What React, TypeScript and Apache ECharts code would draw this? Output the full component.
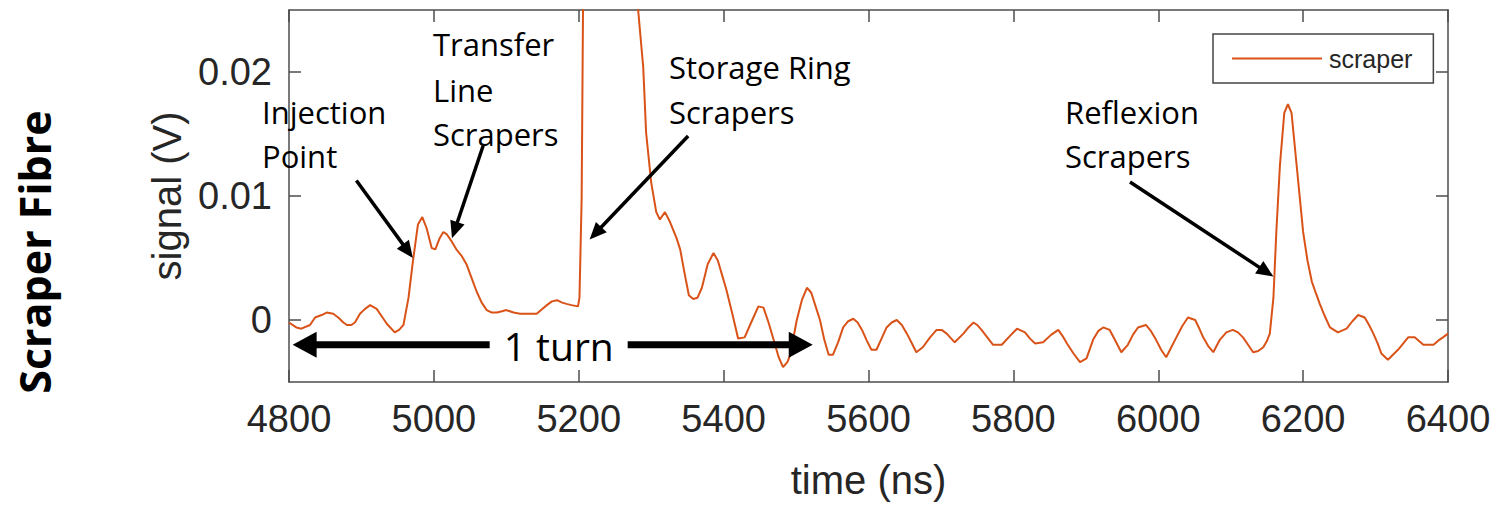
import React, { useEffect, useRef } from "react";
import * as echarts from "echarts";

// ---- data ----
const timeNs = [
  4800, 4810, 4817, 4829, 4836, 4845, 4852, 4861, 4868, 4875, 4880, 4886, 4891, 4898, 4905, 4912, 4921, 4928, 4935, 4946,
  4952, 4958, 4965, 4971, 4978, 4984, 4990, 4997, 5002, 5008, 5013, 5018, 5025, 5031, 5038, 5045, 5052, 5059, 5066, 5073,
  5080, 5087, 5094, 5100, 5110, 5119, 5130, 5142, 5150, 5156, 5163, 5170, 5177, 5183, 5190, 5199, 5201, 5204, 5206, 5210,
  5230, 5250, 5270, 5282, 5289, 5293, 5300, 5307, 5312, 5319, 5326, 5335, 5340, 5346, 5352, 5358, 5364, 5370, 5378, 5386,
  5392, 5398, 5404, 5412, 5420, 5429, 5438, 5448, 5455, 5462, 5469, 5476, 5482, 5488, 5492, 5501, 5508, 5515, 5521, 5527,
  5533, 5539, 5545, 5551, 5558, 5565, 5572, 5579, 5585, 5591, 5598, 5604, 5611, 5618, 5625, 5632, 5639, 5646, 5653, 5660,
  5666, 5675, 5685, 5694, 5701, 5708, 5719, 5731, 5738, 5745, 5750, 5756, 5764, 5772, 5784, 5795, 5805, 5816, 5823, 5830,
  5841, 5852, 5862, 5868, 5874, 5883, 5892, 5901, 5910, 5917, 5924, 5933, 5941, 5949, 5958, 5965, 5972, 5983, 5990, 5997,
  6004, 6011, 6018, 6025, 6033, 6041, 6051, 6056, 6062, 6069, 6076, 6085, 6094, 6103, 6110, 6117, 6124, 6131, 6138, 6145,
  6150, 6154, 6159, 6163, 6168, 6174, 6179, 6184, 6191, 6200, 6206, 6212, 6218, 6223, 6230, 6237, 6248, 6260, 6268, 6276,
  6285, 6291, 6297, 6303, 6308, 6317, 6324, 6331, 6338, 6345, 6354, 6360, 6366, 6380, 6388, 6393, 6400,
];

const signalV = [
  -0.0002, -0.0006, -0.0007, -0.0004, 0.0002, 0.0004, 0.0006, 0.0005, 0.0002, -0.0002, -0.0004, -0.0004, -0.0002, 0.0005, 0.0009, 0.0012, 0.0009, 0.0003, -0.0003, -0.001,
  -0.0008, -0.0004, 0.0018, 0.0047, 0.0077, 0.0083, 0.0074, 0.0058, 0.0057, 0.0066, 0.0071, 0.0069, 0.0063, 0.0057, 0.0052, 0.0045, 0.0034, 0.0023, 0.0014, 0.0008,
  0.0006, 0.0006, 0.0007, 0.0008, 0.0006, 0.0005, 0.0005, 0.0005, 0.0009, 0.0012, 0.0015, 0.0016, 0.0014, 0.0013, 0.0012, 0.0011, 0.0018, 0.0098, 0.026, 0.04,
  0.048, 0.044, 0.033, 0.025, 0.0204, 0.0151, 0.0111, 0.0087, 0.0081, 0.0087, 0.0079, 0.0066, 0.0057, 0.0038, 0.002, 0.0017, 0.0018, 0.0026, 0.0045, 0.0054,
  0.0048, 0.0036, 0.0024, 0.0005, -0.0015, -0.0014, -0.0002, 0.0011, 0.001, -0.0002, -0.0016, -0.003, -0.0038, -0.0034, -0.0028, 0.0, 0.0016, 0.0026, 0.0022, 0.0011,
  0.0, -0.0016, -0.0028, -0.0028, -0.0018, -0.0006, -0.0001, 0.0001, -0.0002, -0.0008, -0.0017, -0.0024, -0.0024, -0.0015, -0.0006, -0.0002, 0.0, -0.0004, -0.0011, -0.0019,
  -0.0026, -0.0022, -0.0014, -0.0008, -0.0008, -0.0011, -0.0018, -0.0011, -0.0006, -0.0002, -0.0004, -0.0008, -0.0014, -0.002, -0.002, -0.0013, -0.0007, -0.001, -0.0015, -0.0019,
  -0.0018, -0.0012, -0.0008, -0.0013, -0.0019, -0.0027, -0.0034, -0.0031, -0.0016, -0.0009, -0.0006, -0.0008, -0.0017, -0.0026, -0.002, -0.0012, -0.0006, -0.0004, -0.0009, -0.0016,
  -0.0024, -0.003, -0.0022, -0.0014, -0.0005, 0.0002, 0.0, -0.0006, -0.0014, -0.0021, -0.0026, -0.0016, -0.001, -0.0008, -0.001, -0.0014, -0.002, -0.0026, -0.0025, -0.0022,
  -0.0017, -0.0011, 0.0018, 0.0071, 0.0125, 0.0167, 0.0174, 0.0167, 0.0125, 0.0071, 0.0048, 0.0031, 0.0021, 0.0013, 0.0003, -0.0006, -0.001, -0.0007, -0.0001, 0.0004,
  0.0002, -0.0004, -0.0011, -0.0019, -0.0027, -0.0032, -0.0028, -0.0024, -0.0019, -0.0014, -0.0014, -0.0017, -0.002, -0.002, -0.0016, -0.0014, -0.0011,
];

const seriesName = "scraper";
const xMin = 4800;
const xMax = 6400;
const xStep = 200;
const yMin = -0.005;
const yMax = 0.025;
const yTickValues = [0, 0.01, 0.02];

// annotation arrows: [tail time, tail signal, tip time, tip signal]
const arrowInjection = [4893, 0.01125, 4971, 0.005];
const arrowTransfer = [5068, 0.01405, 5025, 0.0066];
const arrowStorage = [5351, 0.01484, 5215, 0.0065];
const arrowReflexion = [5961, 0.01113, 6159, 0.0035];
// one-turn double arrow: [start time, end time, signal level]
const turnArrow = [4805, 5523, -0.002];

const AXIS_COLOR = "#4d4d4d";
const TEXT_COLOR = "#262626";
const LINE_COLOR = "#D95319";
const NOTE_FONT = '"Open Sans", "Noto Sans", sans-serif';
const AXIS_FONT = '"Liberation Sans", Arial, sans-serif';

function arrowShapes(x1: number, y1: number, x2: number, y2: number, w: number, L: number, W: number) {
  const dx = x2 - x1;
  const dy = y2 - y1;
  const len = Math.sqrt(dx * dx + dy * dy);
  const ux = dx / len;
  const uy = dy / len;
  const bx = x2 - ux * L;
  const by = y2 - uy * L;
  const nx = -uy;
  const ny = ux;
  return [
    {
      type: "line",
      shape: { x1, y1, x2: bx + ux * 2, y2: by + uy * 2 },
      style: { stroke: "#000", lineWidth: w },
      z: 100,
    },
    {
      type: "polygon",
      shape: {
        points: [
          [x2, y2],
          [bx + (nx * W) / 2, by + (ny * W) / 2],
          [bx - (nx * W) / 2, by - (ny * W) / 2],
        ],
      },
      style: { fill: "#000" },
      z: 100,
    },
  ];
}

function noteText(text: string, x: number, y: number) {
  return {
    type: "text",
    x,
    y,
    z: 100,
    style: {
      text,
      fill: "#000",
      font: `31px ${NOTE_FONT}`,
      textAlign: "left",
      textVerticalAlign: "middle",
    },
  };
}

export default function App() {
  const ref = useRef<HTMLDivElement>(null);

  useEffect(() => {
    if (!ref.current) return;
    const chart = echarts.init(ref.current, undefined, { renderer: "svg" });
    const data = timeNs.map((t, i) => [t, signalV[i]]);

    const axisLine = { show: true, onZero: false, lineStyle: { color: AXIS_COLOR, width: 1.5 } };
    const axisTick = { show: true, inside: true, length: 12, lineStyle: { color: AXIS_COLOR, width: 1.5 } };

    chart.setOption({
      animation: false,
      backgroundColor: "#fff",
      grid: { left: 289, right: 48, top: 10, bottom: 119 },
      legend: {
        left: 1213,
        top: 34,
        orient: "horizontal",
        padding: [12, 21, 12, 19],
        borderColor: "#444",
        borderWidth: 1.5,
        itemWidth: 90,
        itemHeight: 2,
        itemGap: 6,
        data: [{ name: seriesName, icon: "rect" }],
        itemStyle: { color: LINE_COLOR },
        textStyle: { fontSize: 25, fontFamily: AXIS_FONT, color: TEXT_COLOR, padding: [0, 0, 0, 2] },
      },
      xAxis: [
        {
          type: "value",
          min: xMin,
          max: xMax,
          interval: xStep,
          position: "bottom",
          axisLine,
          axisTick,
          splitLine: { show: false },
          axisLabel: {
            fontSize: 38,
            fontFamily: AXIS_FONT,
            color: TEXT_COLOR,
            margin: 18,
            formatter: (v: number) => String(Math.round(v)),
          },
          name: "time (ns)",
          nameLocation: "middle",
          nameGap: 78,
          nameTextStyle: { fontSize: 40, fontFamily: AXIS_FONT, color: TEXT_COLOR },
        },
        {
          type: "value",
          min: xMin,
          max: xMax,
          interval: xStep,
          position: "top",
          axisLine,
          axisTick,
          splitLine: { show: false },
          axisLabel: { show: false },
        },
      ],
      yAxis: [
        {
          type: "value",
          min: yMin,
          max: yMax,
          position: "left",
          axisLine,
          axisTick: { ...axisTick, customValues: yTickValues },
          splitLine: { show: false },
          axisLabel: {
            customValues: yTickValues,
            fontSize: 38,
            fontFamily: AXIS_FONT,
            color: TEXT_COLOR,
            margin: 17,
            formatter: (v: number) => (Math.abs(v) < 1e-12 ? "0" : String(+v.toFixed(4))),
          },
          name: "signal (V)",
          nameLocation: "middle",
          nameGap: 100,
          nameRotate: 90,
          nameTextStyle: { fontSize: 40, fontFamily: AXIS_FONT, color: TEXT_COLOR },
        },
        {
          type: "value",
          min: yMin,
          max: yMax,
          position: "right",
          axisLine,
          axisTick: { ...axisTick, customValues: yTickValues },
          splitLine: { show: false },
          axisLabel: { show: false },
        },
      ],
      series: [
        {
          name: seriesName,
          type: "line",
          xAxisIndex: 0,
          yAxisIndex: 0,
          data,
          symbol: "none",
          showSymbol: false,
          clip: true,
          lineStyle: { color: LINE_COLOR, width: 2 },
          itemStyle: { color: LINE_COLOR },
        },
      ],
    });

    const px = (t: number, v: number) => chart.convertToPixel({ gridIndex: 0 }, [t, v]) as number[];

    const graphics: any[] = [];
    for (const a of [arrowInjection, arrowTransfer, arrowStorage, arrowReflexion]) {
      const p1 = px(a[0], a[1]);
      const p2 = px(a[2], a[3]);
      graphics.push(...arrowShapes(p1[0], p1[1], p2[0], p2[1], 3.5, 17, 15));
    }

    // one turn double arrow with the label in its gap
    const tl = px(turnArrow[0], turnArrow[2]);
    const tr = px(turnArrow[1], turnArrow[2]);
    const tc = (tl[0] + tr[0]) / 2 + 6;
    const halfGap = 69;
    graphics.push(...arrowShapes(tc - halfGap, tl[1], tl[0], tl[1], 7, 24, 26));
    graphics.push(...arrowShapes(tc + halfGap, tr[1], tr[0], tr[1], 7, 24, 26));
    graphics.push({
      type: "text",
      x: tc,
      y: tl[1] + 1,
      z: 100,
      style: {
        text: "1 turn",
        fill: "#000",
        font: `39px ${NOTE_FONT}`,
        textAlign: "center",
        textVerticalAlign: "middle",
      },
    });

    graphics.push(noteText("Injection", 262, 112));
    graphics.push(noteText("Point", 262, 156));
    graphics.push(noteText("Transfer", 433, 44));
    graphics.push(noteText("Line", 433, 90));
    graphics.push(noteText("Scrapers", 433, 134));
    graphics.push(noteText("Storage Ring", 669, 67));
    graphics.push(noteText("Scrapers", 669, 112));
    graphics.push(noteText("Reflexion", 1065, 112));
    graphics.push(noteText("Scrapers", 1065, 156));

    graphics.push({
      type: "text",
      x: 34,
      y: 252,
      rotation: Math.PI / 2,
      z: 100,
      style: {
        text: "Scraper Fibre",
        fill: "#000",
        font: `bold 43px ${NOTE_FONT}`,
        textAlign: "center",
        textVerticalAlign: "middle",
      },
    });

    chart.setOption({ graphic: graphics });

    return () => {
      chart.dispose();
    };
  }, []);

  return (
    <div
      ref={ref}
      style={{ position: "fixed", left: 0, top: 0, width: 1496, height: 505, background: "#fff" }}
    />
  );
}
